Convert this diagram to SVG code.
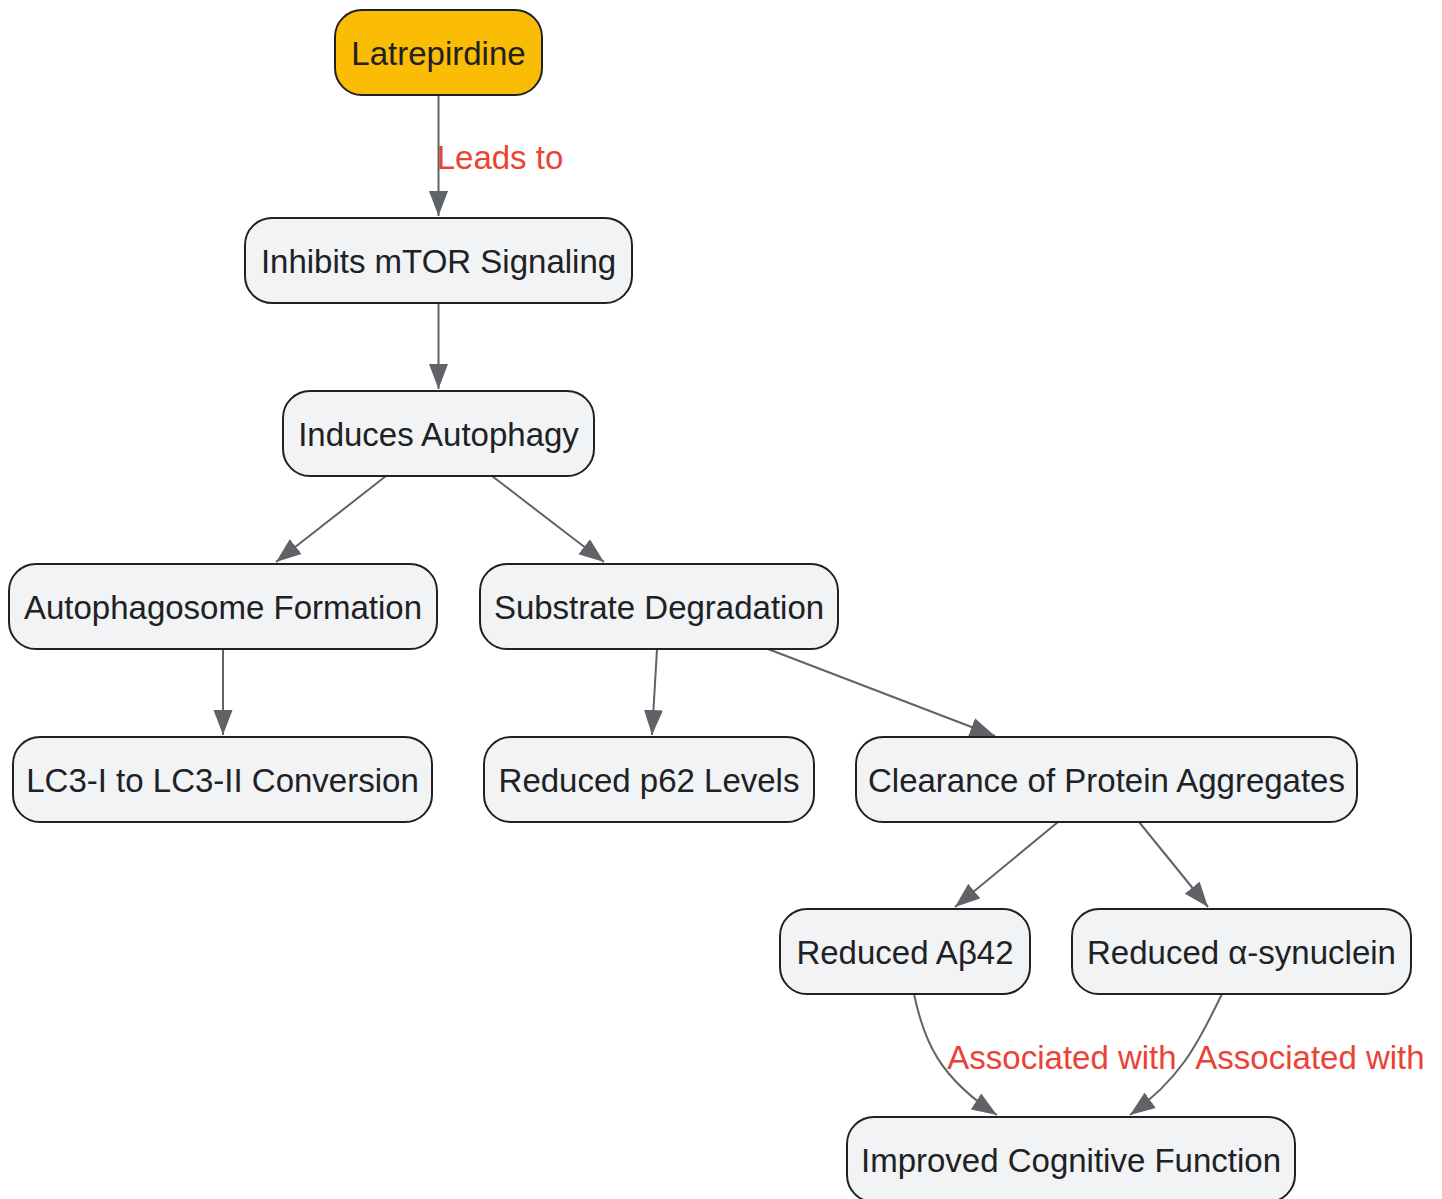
<svg xmlns="http://www.w3.org/2000/svg" width="1442" height="1199" viewBox="0 0 1442 1199">
<defs>
<style>
.node rect{fill:#f1f3f4;stroke:#202124;stroke-width:2}
.node.start rect{fill:#fbbc05}
.node text{font-family:"Liberation Sans",Arial,sans-serif;font-size:33px;fill:#202124;text-anchor:middle}
.edge{fill:none;stroke:#5f6368;stroke-width:2;marker-end:url(#arrow)}
.elabel{font-family:"Liberation Sans",Arial,sans-serif;font-size:33px;fill:#ea4335;text-anchor:middle}
</style>
<marker id="arrow" markerUnits="userSpaceOnUse" markerWidth="25" markerHeight="20" refX="25" refY="10" orient="auto">
<path d="M0,0.5 L25,10 L0,19.5 z" fill="#5f6368"/>
</marker>
</defs>
<rect width="1442" height="1199" fill="#ffffff"/>
<g id="connectors">
<path class="edge" d="M438.5,95 L438.5,216"/>
<path class="edge" d="M438.5,303 L438.5,389"/>
<path class="edge" d="M386,476 L276,562"/>
<path class="edge" d="M492,476 L604,562"/>
<path class="edge" d="M223,649 L223,735"/>
<path class="edge" d="M657,649 L652,735"/>
<path class="edge" d="M768,649 L995,736"/>
<path class="edge" d="M1058,822 L955,907"/>
<path class="edge" d="M1139,822 L1208,907"/>
<path class="edge" d="M914,994 C924,1042 940,1078 997,1115"/>
<path class="edge" d="M1222,994 C1200,1038 1185,1075 1130,1115"/>
<text class="elabel" x="500" y="169">Leads to</text>
<text class="elabel" x="1062" y="1069">Associated with</text>
<text class="elabel" x="1310" y="1069">Associated with</text>
</g>
<g id="n1" class="node start"><rect x="335" y="10" width="207" height="85" rx="27"/><text x="438.5" y="65">Latrepirdine</text></g>
<g id="n2" class="node"><rect x="245" y="218" width="387" height="85" rx="27"/><text x="438.5" y="273">Inhibits mTOR Signaling</text></g>
<g id="n3" class="node"><rect x="283" y="391" width="311" height="85" rx="27"/><text x="438.5" y="446">Induces Autophagy</text></g>
<g id="n4" class="node"><rect x="9" y="564" width="428" height="85" rx="27"/><text x="223" y="619">Autophagosome Formation</text></g>
<g id="n5" class="node"><rect x="480" y="564" width="358" height="85" rx="27"/><text x="659" y="619">Substrate Degradation</text></g>
<g id="n6" class="node"><rect x="13" y="737" width="419" height="85" rx="27"/><text x="222.5" y="792">LC3-I to LC3-II Conversion</text></g>
<g id="n7" class="node"><rect x="484" y="737" width="330" height="85" rx="27"/><text x="649" y="792">Reduced p62 Levels</text></g>
<g id="n8" class="node"><rect x="856" y="737" width="501" height="85" rx="27"/><text x="1106.5" y="792">Clearance of Protein Aggregates</text></g>
<g id="n9" class="node"><rect x="780" y="909" width="250" height="85" rx="27"/><text x="905" y="964">Reduced Aβ42</text></g>
<g id="n10" class="node"><rect x="1072" y="909" width="339" height="85" rx="27"/><text x="1241.5" y="964">Reduced α-synuclein</text></g>
<g id="n11" class="node"><rect x="847" y="1117" width="448" height="85" rx="27"/><text x="1071" y="1172">Improved Cognitive Function</text></g>
</svg>
